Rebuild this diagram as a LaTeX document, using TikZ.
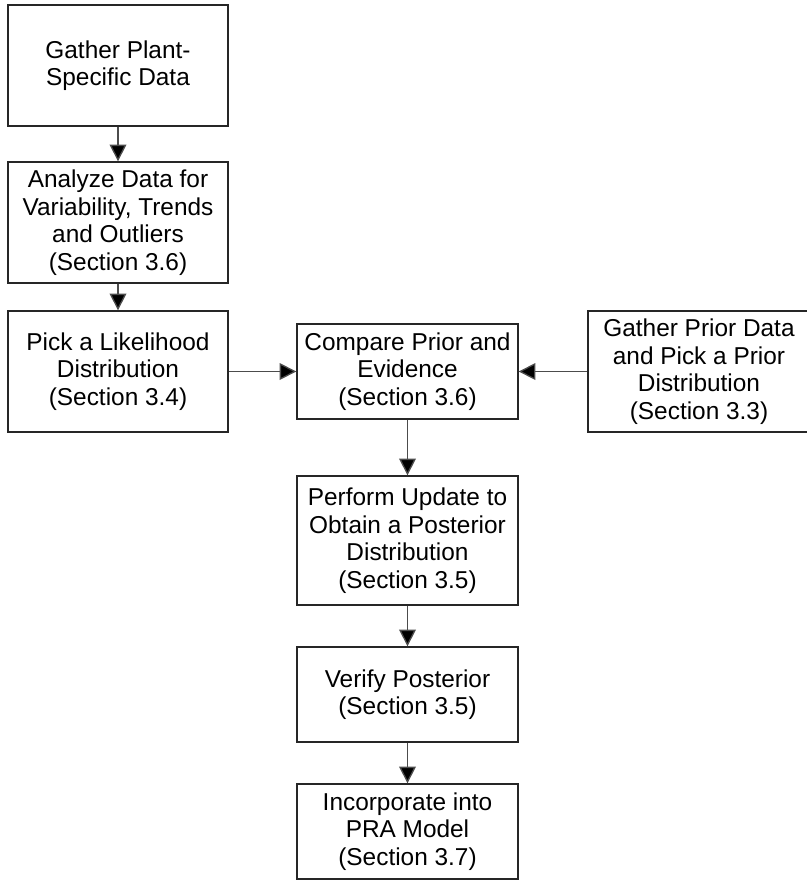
\documentclass[tikz,border=0pt]{standalone}
\usepackage{fontspec}
\setmainfont{Liberation Sans}
\usetikzlibrary{arrows.meta}
\begin{document}
\begin{tikzpicture}[x=0.75pt,y=-0.75pt,
  stepbox/.style={draw=black!85,line width=1pt,rectangle,inner sep=0pt,
    align=center,font=\fontsize{18.3pt}{20.6pt}\selectfont},
  link/.style={draw=black!70,line width=1pt,
    -{Triangle[length=12.5pt,width=12.5pt,fill=black]}}]
\useasboundingbox (0,0) rectangle (807,883);
% left column
\node[stepbox,minimum width=220*0.75pt,minimum height=121*0.75pt] (gather) at (118,65.5) {Gather Plant-\\Specific Data};
\node[stepbox,minimum width=220*0.75pt,minimum height=121*0.75pt] (analyze) at (118,222.5) {Analyze Data for\\Variability, Trends\\and Outliers\\(Section 3.6)};
\node[stepbox,minimum width=220*0.75pt,minimum height=121*0.75pt] (likeli) at (118,371.5) {Pick a Likelihood\\Distribution\\(Section 3.4)};
% centre column
\node[stepbox,minimum width=221*0.75pt,minimum height=95*0.75pt] (compare) at (407.5,371.5) {Compare Prior and\\Evidence\\(Section 3.6)};
\node[stepbox,minimum width=221*0.75pt,minimum height=129*0.75pt] (update) at (407.5,540.5) {Perform Update to\\Obtain a Posterior\\Distribution\\(Section 3.5)};
\node[stepbox,minimum width=221*0.75pt,minimum height=95*0.75pt] (verify) at (407.5,694.5) {Verify Posterior\\(Section 3.5)};
\node[stepbox,minimum width=221*0.75pt,minimum height=95*0.75pt] (pra) at (407.5,831.5) {Incorporate into\\PRA Model\\(Section 3.7)};
% right column (its right edge runs off the page)
\node[stepbox,minimum width=222*0.75pt,minimum height=121*0.75pt] (prior) at (699,371.5) {Gather Prior Data\\and Pick a Prior\\Distribution\\(Section 3.3)};
% connectors
\draw[link] (gather) -- (analyze);
\draw[link] (analyze) -- (likeli);
\draw[link] (likeli) -- (compare);
\draw[link] (prior) -- (compare);
\draw[link] (compare) -- (update);
\draw[link] (update) -- (verify);
\draw[link] (verify) -- (pra);
\end{tikzpicture}
\end{document}
